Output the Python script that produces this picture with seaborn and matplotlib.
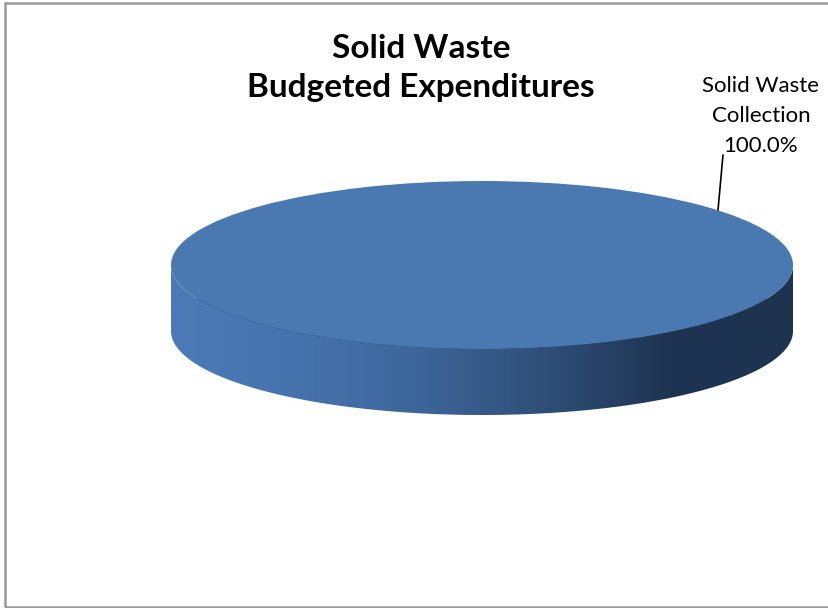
# Solid Waste - Budgeted Expenditures (3D-style single slice pie)
import numpy as np
import matplotlib
matplotlib.use("Agg")
import matplotlib.pyplot as plt
import seaborn as sns
from matplotlib.colors import LinearSegmentedColormap
from matplotlib.patches import Polygon, Rectangle

sns.set_theme(style="white")
plt.rcParams['font.family'] = ['Lato', 'DejaVu Sans']

# ---------- DATA ----------
categories = ["Solid Waste\nCollection"]
values = [100.0]
title_text = "Solid Waste\nBudgeted Expenditures"

top_color = "#4a79b2"
side_colors = ["#4b7bb8", "#4673ad", "#3d6599", "#2f4f78", "#1f3452", "#1e3350"]

# ---------- FIGURE ----------
W, H = 829, 608
fig = plt.figure(figsize=(W / 100, H / 100), dpi=100)

# pixel helper -> figure fraction
def fx(px):
    return px / W

def fy(py):
    return 1 - py / H

# pie axes spans the ellipse plus its depth
left, right = 171, 793
top, bottom = 181, 415
cy_px = 265
ry_px = cy_px - top
depth = (bottom - cy_px - ry_px) / ry_px

ax = fig.add_axes([fx(left), fy(bottom), fx(right) - fx(left), (bottom - top) / H])
ax.set_xlim(-1, 1)
ax.set_ylim(-1 - depth, 1)

# bottom face (hidden behind side, keeps the outline)
ax.pie(values, center=(0, -depth), radius=1, colors=[side_colors[-1]],
       startangle=90, counterclock=False, frame=True)

# side band with horizontal gradient
t = np.linspace(np.pi, 2 * np.pi, 200)
xs = np.cos(t)
ys = np.sin(t)
band = np.concatenate([np.c_[xs, ys], np.c_[xs[::-1], ys[::-1] - depth]])
side = Polygon(band, closed=True, facecolor="none", edgecolor="none")
ax.add_patch(side)
cmap = LinearSegmentedColormap.from_list("side", side_colors)
grad = np.linspace(0, 1, 256).reshape(1, -1)
img = ax.imshow(grad, cmap=cmap, extent=[-1, 1, -1 - depth, 0],
                aspect="auto", zorder=2)
img.set_clip_path(side)

# top face
wedges, _ = ax.pie(values, center=(0, 0), radius=1, colors=[top_color],
                   startangle=90, counterclock=False, frame=True,
                   wedgeprops=dict(linewidth=0, zorder=3))
for w in wedges:
    w.set_zorder(3)

ax.set_xlim(-1, 1)
ax.set_ylim(-1 - depth, 1)
ax.set_aspect("auto")
ax.axis("off")

# ---------- TEXT ----------
fig.text(fx(421), fy(68), title_text, ha="center", va="center",
         fontsize=24, fontweight="bold", color="black", linespacing=1.4)

fig.text(fx(761), fy(116), f"{categories[0]}\n{values[0]:.1f}%",
         ha="center", va="center", fontsize=16, color="black",
         linespacing=1.6)

fig.add_artist(plt.Line2D([fx(718), fx(723)], [fy(210), fy(155)],
                          color="black", linewidth=1.2))

# chart border
fig.add_artist(Rectangle((fx(5), fy(607)), 1.2, fy(3) - fy(607),
                         transform=fig.transFigure, fill=False,
                         edgecolor="#999999", linewidth=1.8))

plt.savefig("out.png", dpi=100)
